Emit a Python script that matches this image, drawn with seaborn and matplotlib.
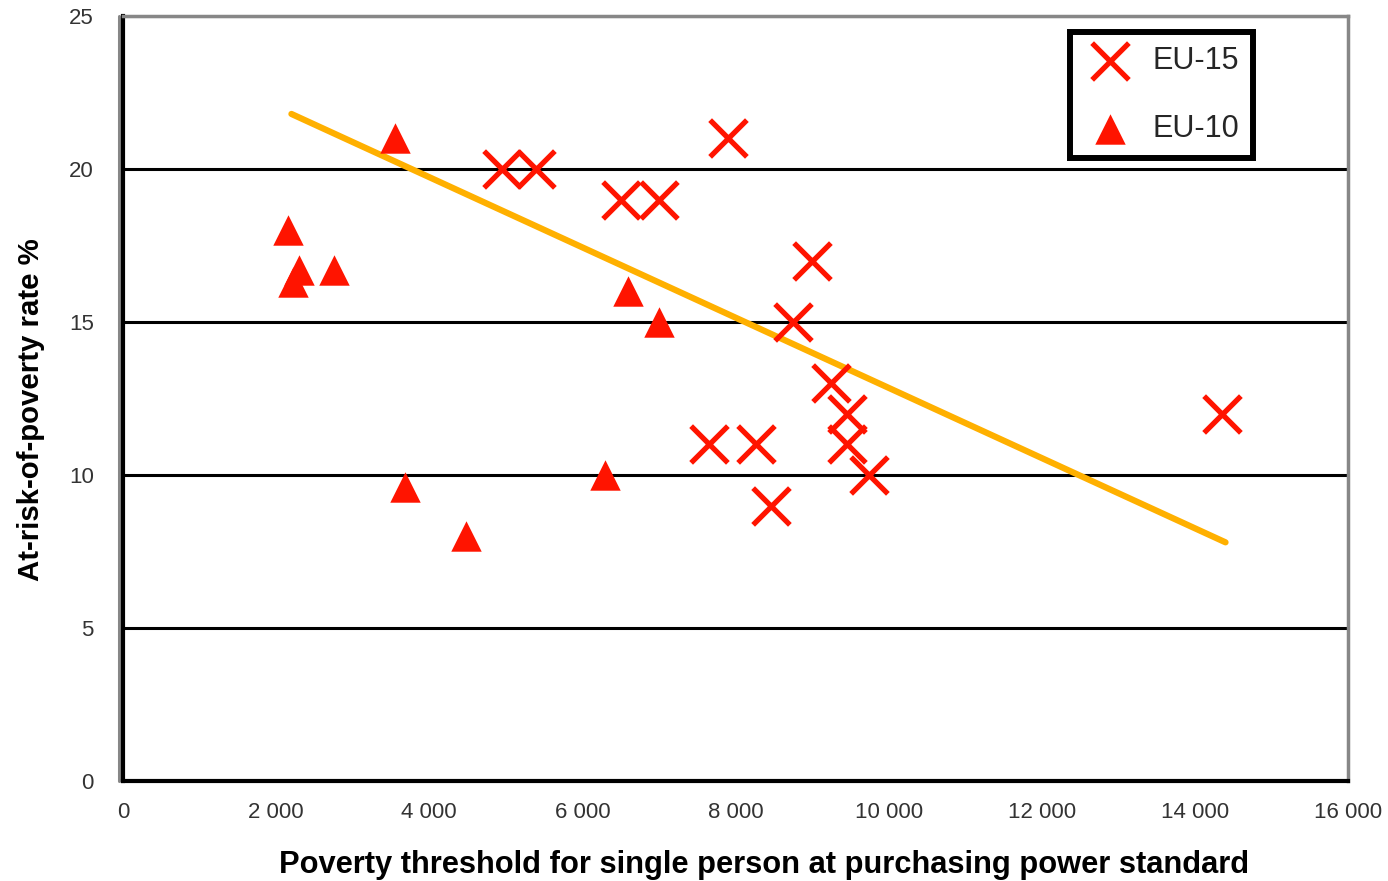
# plot.py
# Poverty threshold vs at-risk-of-poverty rate, EU-15 and EU-10 countries.

import matplotlib
matplotlib.use("Agg")
import matplotlib.pyplot as plt
from matplotlib.ticker import FuncFormatter, MultipleLocator
import pandas as pd
import seaborn as sns

# ── Data ─────────────────────────────────────────────────────────────────────
EU15_THRESHOLD = [4950, 5400, 6500, 7000, 7900, 9000, 8750, 9250,
                  9450, 9450, 9750, 7650, 8270, 8470, 14350]
EU15_RATE      = [20, 20, 19, 19, 21, 17, 15, 13,
                  12, 11, 10, 11, 11, 9, 12]

EU10_THRESHOLD = [3550, 2150, 2300, 2220, 2750, 6600, 7000, 3680, 4480, 6300]
EU10_RATE      = [21, 18, 16.7, 16.3, 16.7, 16, 15, 9.6, 8, 10]

TREND_X = [2200, 14400]
TREND_Y = [21.8, 7.8]

GROUPS  = ["EU-15", "EU-10"]
X_LABEL = "Poverty threshold for single person at purchasing power standard"
Y_LABEL = "At-risk-of-poverty rate %"

RED    = "#ff1400"
ORANGE = "#ffb000"
GREY   = "#878787"

# ── Style ────────────────────────────────────────────────────────────────────
sns.set_theme(style="white")
plt.rcParams["font.family"] = ["Liberation Sans", "DejaVu Sans"]

eu15 = pd.DataFrame({"threshold": EU15_THRESHOLD, "rate": EU15_RATE})
eu10 = pd.DataFrame({"threshold": EU10_THRESHOLD, "rate": EU10_RATE})
trend = pd.DataFrame({"threshold": TREND_X, "rate": TREND_Y})

fig, ax = plt.subplots(figsize=(13.88, 8.81), dpi=100)
fig.subplots_adjust(left=0.0886, right=0.9712, bottom=0.1135, top=0.9818)

sns.lineplot(data=trend, x="threshold", y="rate", color=ORANGE,
             linewidth=4.5, ax=ax, zorder=2)
sns.scatterplot(data=eu15, x="threshold", y="rate", marker="x", color=RED,
                s=700, linewidth=3.8, label=GROUPS[0], ax=ax, zorder=3)
sns.scatterplot(data=eu10, x="threshold", y="rate", marker="^", color=RED,
                s=480, linewidth=0, label=GROUPS[1], ax=ax, zorder=3)

# ── Axes ─────────────────────────────────────────────────────────────────────
ax.set_xlim(0, 16000)
ax.set_ylim(0, 25)
ax.xaxis.set_major_locator(MultipleLocator(2000))
ax.yaxis.set_major_locator(MultipleLocator(5))
ax.xaxis.set_major_formatter(FuncFormatter(lambda v, _: f"{int(v):,}".replace(",", " ")))

ax.yaxis.grid(True, color="black", linewidth=2.2, zorder=1)
ax.set_axisbelow(True)
ylines = ax.get_ygridlines()
ylines[0].set_visible(False)
ylines[-1].set_visible(False)

for side in ["top", "right"]:
    ax.spines[side].set_color(GREY)
    ax.spines[side].set_linewidth(2.5)
for side in ["left", "bottom"]:
    ax.spines[side].set_color("black")
    ax.spines[side].set_linewidth(3)
# thin grey rule just left of the black y axis, as in the original frame
ax.plot([-0.0035, -0.0035], [0, 1], transform=ax.transAxes, color=GREY,
        linewidth=2.2, clip_on=False, zorder=0.5)

ax.tick_params(axis="both", direction="out", length=6, width=2.2,
               color="black", labelcolor="#333333", labelsize=16)
ax.tick_params(axis="y", pad=15)
ax.tick_params(axis="x", pad=9)

ax.set_xlabel(X_LABEL, fontsize=22.2, fontweight="bold", color="black")
ax.set_ylabel(Y_LABEL, fontsize=21.2, fontweight="bold", color="black")
ax.xaxis.set_label_coords(0.523, -0.0905)
ax.yaxis.set_label_coords(-0.075, 0.485)
ax.yaxis.label.set_va("center")

leg = ax.legend(loc="upper right", bbox_to_anchor=(0.9224, 0.979),
                borderaxespad=0, fontsize=22, frameon=True, fancybox=False,
                borderpad=0.45, handlelength=1.75, handletextpad=0.5,
                labelspacing=1.25)
leg.get_frame().set_edgecolor("black")
leg.get_frame().set_linewidth(4.3)
leg.get_frame().set_alpha(1)

fig.savefig("out.png", dpi=100)
